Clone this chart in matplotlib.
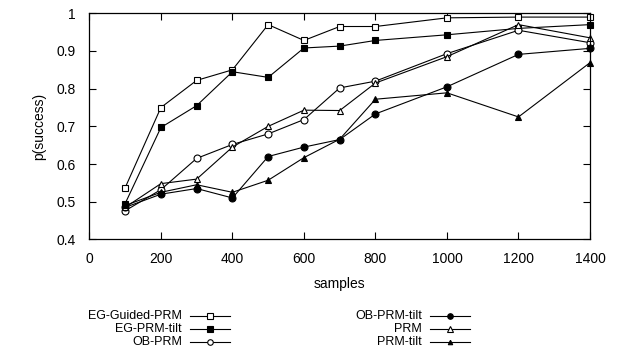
import matplotlib
matplotlib.use("Agg")
import matplotlib.pyplot as plt
from matplotlib.lines import Line2D

plt.rcParams['font.family'] = ['Liberation Sans', 'DejaVu Sans']
plt.rcParams['font.size'] = 10

samples = [100, 200, 300, 400, 500, 600, 700, 800, 1000, 1200, 1400]

eg_guided_prm = [0.537, 0.750, 0.822, 0.850, 0.970, 0.928, 0.965, 0.965, 0.988, 0.990, 0.990]
eg_prm_tilt = [0.495, 0.697, 0.755, 0.845, 0.830, 0.908, 0.913, 0.928, 0.943, 0.960, 0.970]
ob_prm = [0.476, 0.532, 0.615, 0.652, 0.680, 0.718, 0.802, 0.820, 0.893, 0.955, 0.922]
ob_prm_tilt = [0.485, 0.520, 0.535, 0.510, 0.620, 0.645, 0.665, 0.733, 0.805, 0.891, 0.907]
prm = [0.485, 0.548, 0.560, 0.645, 0.700, 0.743, 0.742, 0.815, 0.885, 0.970, 0.935]
prm_tilt = [0.490, 0.525, 0.545, 0.525, 0.557, 0.617, 0.666, 0.772, 0.789, 0.725, 0.869]

labels = ["EG-Guided-PRM", "EG-PRM-tilt", "OB-PRM", "OB-PRM-tilt", "PRM", "PRM-tilt"]
series = [eg_guided_prm, eg_prm_tilt, ob_prm, ob_prm_tilt, prm, prm_tilt]
# marker, face colour, size
styles = [('s', 'white', 5.0), ('s', 'black', 5.0), ('o', 'white', 5.0),
          ('o', 'black', 5.0), ('^', 'white', 5.0), ('^', 'black', 4.0)]

fig = plt.figure(figsize=(6.25, 3.6), dpi=100)
ax = fig.add_axes([0.143, 0.335, 0.801, 0.628])

for vals, lab, (m, fc, ms) in zip(series, labels, styles):
    ax.plot(samples, vals, color='black', linewidth=0.8, marker=m,
            markerfacecolor=fc, markeredgecolor='black', markeredgewidth=0.8,
            markersize=ms, clip_on=False, label=lab)

ax.set_xlim(0, 1400)
ax.set_ylim(0.4, 1.0)
ax.set_xticks(range(0, 1401, 200))
ax.set_yticks([0.4, 0.5, 0.6, 0.7, 0.8, 0.9, 1.0])
ax.set_yticklabels(["0.4", "0.5", "0.6", "0.7", "0.8", "0.9", "1"])
ax.tick_params(direction='in', length=5, width=0.8, top=True, right=True)
ax.tick_params(axis='x', pad=9)
ax.tick_params(axis='y', pad=10)
for sp in ax.spines.values():
    sp.set_linewidth(0.9)
ax.set_xlabel("samples", labelpad=8)
ax.set_ylabel("p(success)", labelpad=7)

# gnuplot-style key below the plot: right-aligned text then line sample
W, H = 625.0, 360.0
cols = [(182, 190, 230), (422, 430, 470)]
rows = [316, 329, 342]
for i, (lab, (m, fc, ms)) in enumerate(zip(labels, styles)):
    tx, x0, x1 = cols[i // 3]
    y = 1 - rows[i % 3] / H
    fig.text(tx / W, y, lab, ha='right', va='center', fontsize=9)
    fig.add_artist(Line2D([x0 / W, x1 / W], [y, y], color='black', linewidth=0.8,
                          transform=fig.transFigure))
    fig.add_artist(Line2D([(x0 + x1) / 2 / W], [y], marker=m, markerfacecolor=fc,
                          markeredgecolor='black', markeredgewidth=0.8,
                          markersize=ms * 0.8, transform=fig.transFigure))

fig.savefig("out.png", dpi=100)
